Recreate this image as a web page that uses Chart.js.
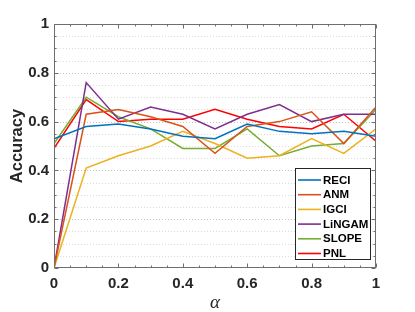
<!DOCTYPE html>
<html lang="en">
<head>
<meta charset="UTF-8">
<title>Accuracy vs alpha</title>
<script src="https://cdn.jsdelivr.net/npm/chart.js@4.4.0/dist/chart.umd.min.js"></script>
<style>
  html, body { margin: 0; padding: 0; background: #fff; }
  #wrap { width: 415px; height: 312px; }
</style>
</head>
<body>
<div id="wrap"><canvas id="chart" width="415" height="312"></canvas></div>
<script>
// values
const alphas = [0, 0.1, 0.2, 0.3, 0.4, 0.5, 0.6, 0.7, 0.8, 0.9, 1];
const reci   = [0.53, 0.58, 0.59, 0.57, 0.54, 0.53, 0.59, 0.56, 0.55, 0.56, 0.54];
const anm    = [0.00, 0.63, 0.65, 0.62, 0.58, 0.47, 0.58, 0.60, 0.64, 0.51, 0.66];
const igci   = [0.00, 0.41, 0.46, 0.50, 0.56, 0.51, 0.45, 0.46, 0.53, 0.47, 0.57];
const lingam = [0.00, 0.76, 0.61, 0.66, 0.63, 0.57, 0.63, 0.67, 0.60, 0.63, 0.63];
const slope  = [0.51, 0.70, 0.62, 0.57, 0.49, 0.49, 0.57, 0.46, 0.50, 0.51, 0.65];
const pnl    = [0.49, 0.69, 0.60, 0.61, 0.61, 0.65, 0.61, 0.58, 0.57, 0.63, 0.52];
const seriesNames = ['RECI', 'ANM', 'IGCI', 'LiNGAM', 'SLOPE', 'PNL'];
const seriesValues = [reci, anm, igci, lingam, slope, pnl];
const yTickLabels = ['0', '0.2', '0.4', '0.6', '0.8', '1'];

const colors = ['#0072BD', '#D95319', '#EDB120', '#7E2F8E', '#77AC30', '#FF0000'];
const axisColor = '#6e6e6e';
const textColor = '#262626';
const sans = "'Liberation Sans', Arial, sans-serif";

const isMajor = v => Math.abs(v * 5 - Math.round(v * 5)) < 1e-6;
const majorLabel = v => {
    if (!isMajor(v)) return '';
    return yTickLabels[Math.round(v * 5)];
};

// matlab-ish axes: dotted grid, box, inward ticks, legend inside
const matlabAxes = {
    id: 'matlabAxes',
    beforeDatasetsDraw(chart) {
        const { ctx, chartArea: a, scales: { y } } = chart;
        ctx.save();
        ctx.lineWidth = 1;
        ctx.setLineDash([1, 2]);
        y.ticks.forEach(t => {
            if (t.value <= 0 || t.value >= 1) return;
            const py = Math.round(y.getPixelForValue(t.value)) + 0.5;
            ctx.strokeStyle = isMajor(t.value) ? '#c4c4c4' : '#dcdcdc';
            ctx.beginPath();
            ctx.moveTo(a.left, py);
            ctx.lineTo(a.right, py);
            ctx.stroke();
        });
        ctx.restore();
    },
    afterDatasetsDraw(chart) {
        const { ctx, chartArea: a, scales: { x, y } } = chart;
        const L = Math.round(a.left) + 0.5, R = Math.round(a.right) - 0.5;
        const T = Math.round(a.top) + 0.5, B = Math.round(a.bottom) - 0.5;
        ctx.save();
        ctx.strokeStyle = axisColor;
        ctx.lineWidth = 1;
        ctx.strokeRect(L, T, R - L, B - T);
        ctx.beginPath();
        x.ticks.forEach(t => {
            const px = Math.round(x.getPixelForValue(t.value)) + 0.5;
            const len = isMajor(t.value) ? 4 : 2;
            ctx.moveTo(px, B); ctx.lineTo(px, B - len);
            ctx.moveTo(px, T); ctx.lineTo(px, T + len);
        });
        y.ticks.forEach(t => {
            const py = Math.round(y.getPixelForValue(t.value)) + 0.5;
            const len = isMajor(t.value) ? 4 : 2;
            ctx.moveTo(L, py); ctx.lineTo(L + len, py);
            ctx.moveTo(R, py); ctx.lineTo(R - len, py);
        });
        ctx.stroke();
        ctx.restore();
    },
    afterDraw(chart) {
        const { ctx, chartArea: a } = chart;
        const sets = chart.data.datasets;
        ctx.save();
        ctx.font = 'bold 11.5px ' + sans;
        const maxW = Math.max(...sets.map(d => ctx.measureText(d.label).width));
        const rowH = 14.7;
        const w = Math.round(28 + maxW + 3);
        const h = 92;
        const right = Math.round(a.right) - 5;
        const bottom = Math.round(a.bottom) - 8;
        const left = right - w, top = bottom - h;
        ctx.fillStyle = '#fff';
        ctx.fillRect(left, top, w, h);
        ctx.strokeStyle = textColor;
        ctx.lineWidth = 1;
        ctx.strokeRect(left + 0.5, top + 0.5, w - 1, h - 1);
        ctx.textBaseline = 'middle';
        ctx.textAlign = 'left';
        sets.forEach((d, i) => {
            const cy = top + 12 + rowH * i;
            ctx.strokeStyle = d.borderColor;
            ctx.lineWidth = 1.6;
            ctx.beginPath();
            ctx.moveTo(left + 3, cy);
            ctx.lineTo(left + 26, cy);
            ctx.stroke();
            ctx.fillStyle = '#000';
            ctx.fillText(d.label, left + 28, cy + 0.5);
        });
        ctx.restore();
    }
};

const datasets = seriesNames.map((name, k) => ({
    label: name,
    data: alphas.map((a, i) => ({ x: a, y: seriesValues[k][i] })),
    borderColor: colors[k],
    backgroundColor: colors[k],
    borderWidth: 1.5,
    pointRadius: 0,
    tension: 0,
    fill: false
}));

new Chart(document.getElementById('chart'), {
    type: 'line',
    data: { datasets },
    options: {
        responsive: false,
        animation: false,
        devicePixelRatio: 1,
        layout: { padding: { left: 0, top: 24, right: 39, bottom: 0 } },
        plugins: { legend: { display: false }, tooltip: { enabled: false } },
        scales: {
            x: {
                type: 'linear',
                min: 0,
                max: 1,
                grid: { display: false, drawTicks: false },
                border: { display: false },
                ticks: {
                    stepSize: 0.05,
                    autoSkip: false,
                    maxRotation: 0,
                    padding: 7,
                    color: textColor,
                    font: { family: sans, size: 15, weight: 'bold' },
                    callback: v => majorLabel(v)
                },
                title: {
                    display: true,
                    text: 'α',
                    color: textColor,
                    padding: { top: 0, bottom: -2 },
                    font: { family: "'Liberation Serif', 'Times New Roman', serif", size: 19, style: 'italic' }
                },
                afterFit: s => { s.height = 44; }
            },
            y: {
                min: 0,
                max: 1,
                grid: { display: false, drawTicks: false },
                border: { display: false },
                ticks: {
                    stepSize: 0.05,
                    autoSkip: false,
                    padding: 5,
                    color: textColor,
                    font: { family: sans, size: 15, weight: 'bold' },
                    callback: v => majorLabel(v)
                },
                title: {
                    display: true,
                    text: 'Accuracy',
                    color: textColor,
                    padding: { top: 8, bottom: 0 },
                    font: { family: sans, size: 16.5, weight: 'bold' }
                },
                afterFit: s => { s.width = 54; }
            }
        }
    },
    plugins: [matlabAxes]
});
</script>
</body>
</html>
